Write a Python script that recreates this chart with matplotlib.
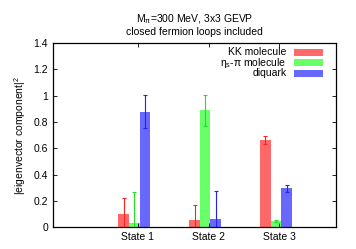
import numpy as np
import matplotlib.pyplot as plt
from matplotlib.patches import Rectangle

plt.rcParams['font.family'] = ['Liberation Sans', 'DejaVu Sans']
plt.rcParams['mathtext.fontset'] = 'custom'
plt.rcParams['mathtext.rm'] = 'Liberation Sans'
plt.rcParams['mathtext.it'] = 'Liberation Sans'

states = ["State 1", "State 2", "State 3"]
series = ["KK molecule", r"$\eta_s$-$\pi$ molecule", "diquark"]
kk = [0.10, 0.053, 0.66]
kk_err = [0.12, 0.117, 0.03]
eta = [0.028, 0.89, 0.046]
eta_err = [0.24, 0.118, 0.01]
diq = [0.877, 0.058, 0.294]
diq_err = [0.125, 0.22, 0.028]

fill = ["#ff6868", "#68ff68", "#6868ff"]
edge = ["#ff2020", "#20e020", "#2020ff"]
fs = 7.5

fig = plt.figure(figsize=(3.56, 2.49), dpi=100)
ax = fig.add_axes([0.149, 0.088, 0.795, 0.739])

x = np.arange(1, 4)
w = 0.15
offs = [-0.2, -0.05, 0.1]
for vals, errs, off, fc, ec in zip([kk, eta, diq], [kk_err, eta_err, diq_err], offs, fill, edge):
    ax.bar(x + off, vals, width=w, color=fc, edgecolor="none")
    ax.errorbar(x + off, vals, yerr=errs, fmt="none", ecolor=ec, elinewidth=0.8,
                capsize=1.5, capthick=0.8)

ax.set_xlim(-0.2, 3.8)
ax.set_ylim(0, 1.4)
ax.set_xticks(x)
ax.set_xticklabels(states)
yt = np.arange(0, 1.41, 0.2)
ax.set_yticks(yt)
ax.set_yticklabels(["%g" % v for v in yt])
ax.tick_params(direction="in", top=True, right=True, labelsize=fs, length=3, width=0.6)
for s in ax.spines.values():
    s.set_linewidth(0.9)

ax.set_ylabel(r"|eigenvector component|$^2$", fontsize=fs)
ax.set_title("M$_\\pi$=300 MeV, 3x3 GEVP\nclosed fermion loops included", fontsize=fs,
             linespacing=1.15, pad=6)

# legend, gnuplot style: text right aligned, sample box to the right
for i, (lab, fc) in enumerate(zip(series, fill)):
    yy = 0.95 - i * 0.057
    ax.text(0.826, yy, lab, transform=ax.transAxes, ha="right", va="center", fontsize=fs)
    ax.add_patch(Rectangle((0.853, yy - 0.018), 0.102, 0.036, transform=ax.transAxes,
                           facecolor=fc, edgecolor="none"))

plt.savefig("out.png", dpi=100)
